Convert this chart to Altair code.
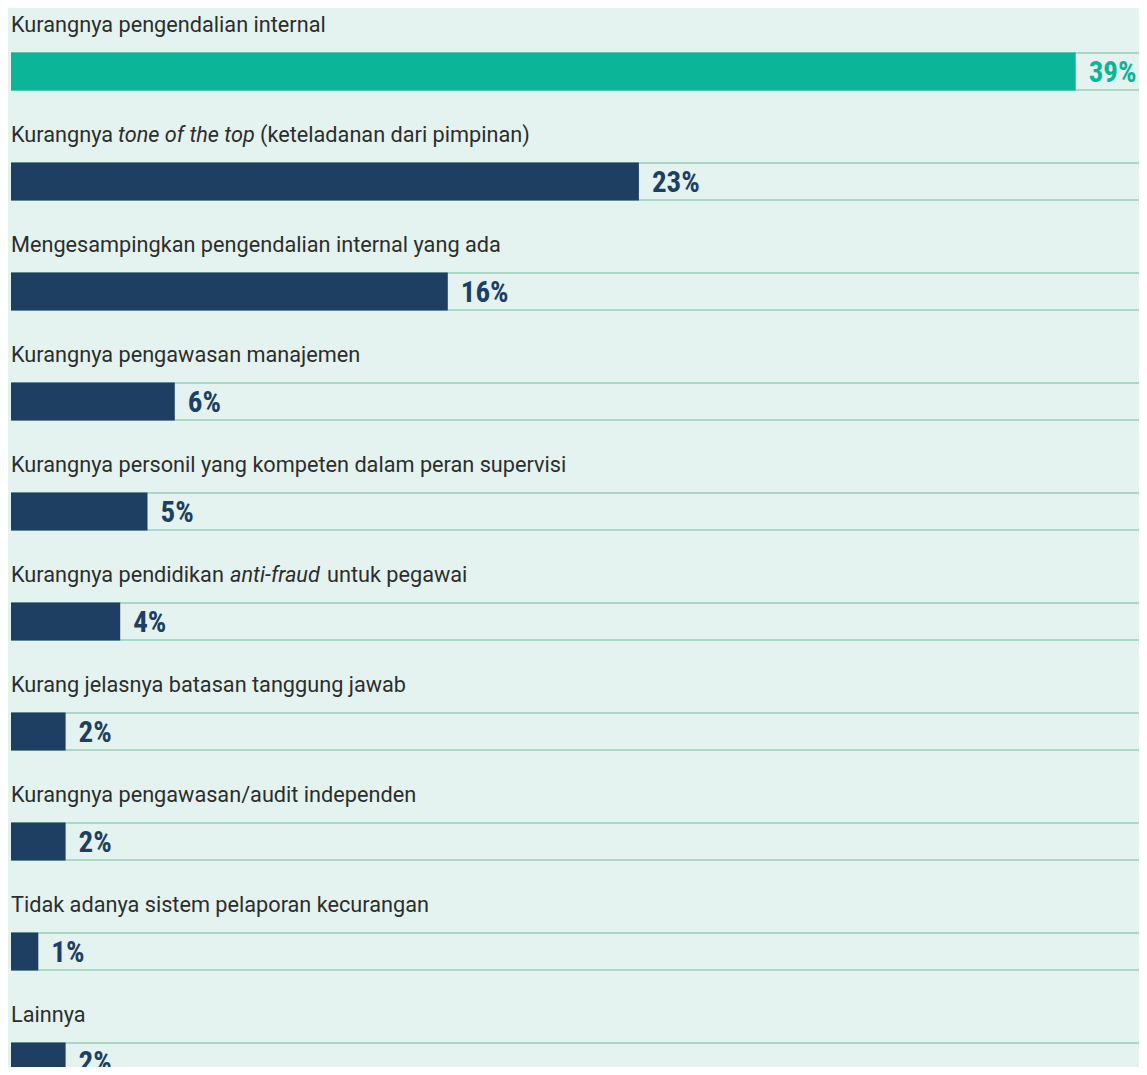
import altair as alt
import pandas as pd

# ---- data ----
label_pre = [
    "Kurangnya pengendalian internal",
    "Kurangnya",
    "Mengesampingkan pengendalian internal yang ada",
    "Kurangnya pengawasan manajemen",
    "Kurangnya personil yang kompeten dalam peran supervisi",
    "Kurangnya pendidikan",
    "Kurang jelasnya batasan tanggung jawab",
    "Kurangnya pengawasan/audit independen",
    "Tidak adanya sistem pelaporan kecurangan",
    "Lainnya",
]
label_ital = ["", "tone of the top", "", "", "", "anti-fraud", "", "", "", ""]
label_post = ["", "(keteladanan dari pimpinan)", "", "", "", "untuk pegawai", "", "", "", ""]
values = [39, 23, 16, 6, 5, 4, 2, 2, 1, 2]

df = pd.DataFrame({
    "row": list(range(len(values))),
    "pre": label_pre,
    "ital": label_ital,
    "post": label_post,
    "pct": values,
})

BG = "#e4f3ef"
NAVY = "#1e3f62"
GREEN = "#0bb597"
LINE = "#a9d9c4"
TXT = "#2d2d2d"
FONT = "Roboto"
NUMFONT = "'Noto Sans ExtraCondensed', 'Noto Sans Condensed', 'Roboto Condensed', 'Liberation Sans Narrow', 'Arial Narrow', monospace"
FS = 21.7

xscale = alt.Scale(domain=[0, 40], range=[3, 1095], clamp=False)
yscale = alt.Scale(range=[-8, 1092], paddingInner=0, paddingOuter=0)

Y = alt.Y("row:O", scale=yscale, axis=None, sort=None)

base = alt.Chart(df).transform_joinaggregate(mx="max(pct)").transform_calculate(
    top="datum.pct === datum.mx", lbl="datum.pct + '%'"
)

rule_top = base.mark_rule(color=LINE, strokeWidth=2, yOffset=-2).encode(
    y=Y,
    x=alt.X("zero:Q", scale=xscale, axis=None),
    x2=alt.datum(45),
).transform_calculate(zero="0")
rule_bot = base.mark_rule(color=LINE, strokeWidth=2, yOffset=35).encode(
    y=Y,
    x=alt.X("zero:Q", scale=xscale, axis=None),
    x2=alt.datum(45),
).transform_calculate(zero="0")

bars = base.mark_bar(height=38, yOffset=16.5).encode(
    y=Y,
    x=alt.X("pct:Q", scale=xscale, axis=None),
    x2=alt.datum(0),
    color=alt.condition("datum.top", alt.value(GREEN), alt.value(NAVY)),
)

vals = base.mark_text(
    align="left", baseline="alphabetic", dx=13, dy=27,
    font=NUMFONT, fontWeight="bold", fontSize=29,
).encode(
    y=Y,
    x=alt.X("pct:Q", scale=xscale, axis=None),
    text="lbl:N",
    color=alt.condition("datum.top", alt.value(GREEN), alt.value(NAVY)),
)

lab_pre = base.mark_text(
    align="left", baseline="alphabetic", dy=-23.5,
    font=FONT, fontSize=FS, color=TXT,
).encode(y=Y, x=alt.datum(0), text="pre:N")

def seg(row, field, dx, italic):
    kw = dict(align="left", baseline="alphabetic", dy=-23.5, dx=dx,
              font=FONT, fontSize=FS, color=TXT)
    if italic:
        kw["fontStyle"] = "italic"
    return base.transform_filter(f"datum.row === {row}").mark_text(**kw).encode(
        y=Y, x=alt.datum(0), text=f"{field}:N"
    )

segs = [
    seg(1, "ital", 107, True),
    seg(1, "post", 249, False),
    seg(5, "ital", 219, True),
    seg(5, "post", 316, False),
]

chart = alt.layer(rule_top, rule_bot, bars, vals, lab_pre, *segs).properties(
    width=1131, height=1059,
    autosize=alt.AutoSizeParams(type="none"),
    padding=0,
    background=BG,
).configure_view(stroke=None)

chart.save("out.html", embed_options={"renderer": "svg", "actions": False})
